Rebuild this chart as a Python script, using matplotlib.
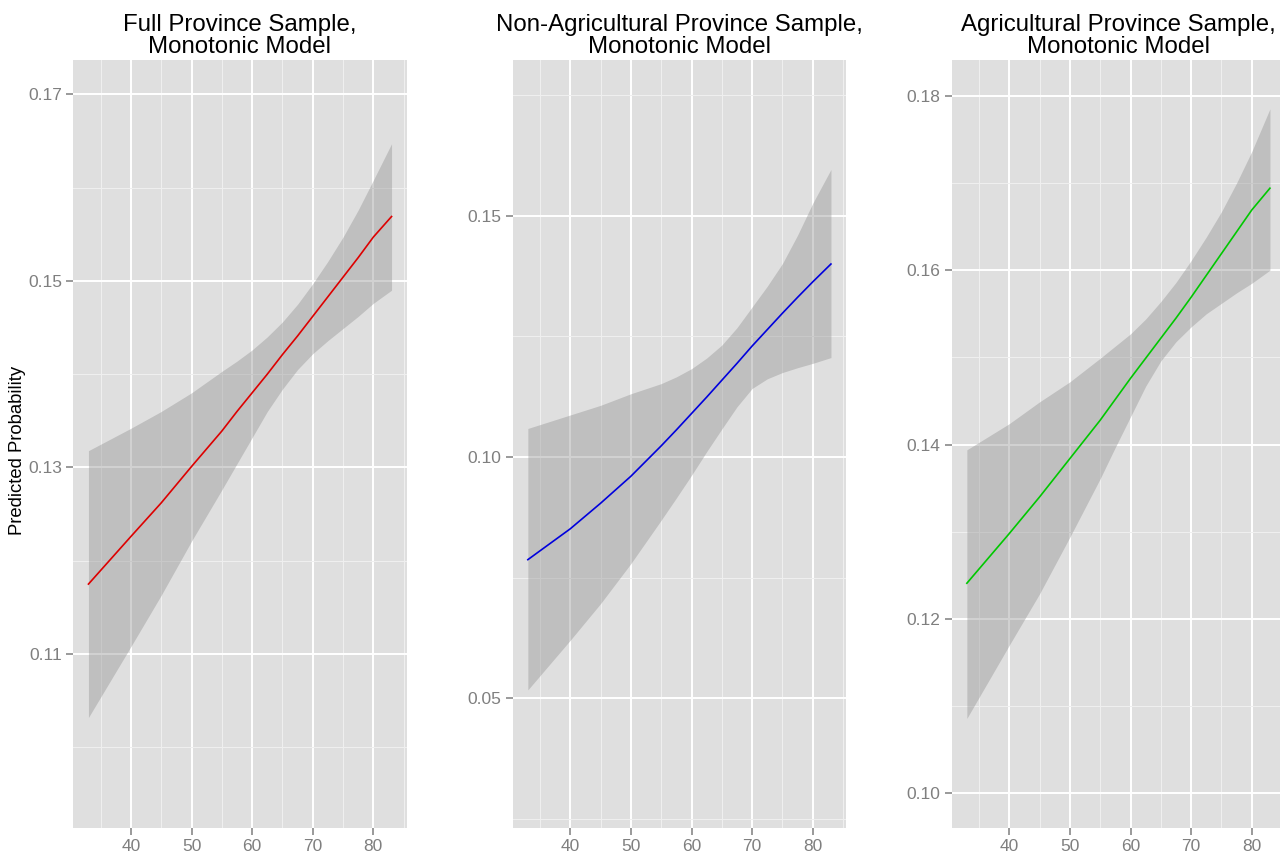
import numpy as np
import matplotlib.pyplot as plt
from matplotlib.ticker import FixedLocator

plt.rcParams['font.family'] = ['Liberation Sans', 'DejaVu Sans']

age = [33, 40, 45, 50, 55, 57.5, 60, 62.5, 65, 67.5, 70, 72.5, 75, 77.5, 80, 83]

# Full province sample
full_fit = [0.1175, 0.1226, 0.1262, 0.1301, 0.1339, 0.1360, 0.1380, 0.1400, 0.1421, 0.1441,
            0.1462, 0.1483, 0.1504, 0.1525, 0.1547, 0.1569]
full_lo  = [0.1032, 0.1108, 0.1163, 0.1221, 0.1276, 0.1304, 0.1332, 0.1360, 0.1384, 0.1405,
            0.1422, 0.1436, 0.1449, 0.1462, 0.1476, 0.1490]
full_hi  = [0.1318, 0.1342, 0.1360, 0.1380, 0.1403, 0.1414, 0.1426, 0.1440, 0.1456, 0.1475,
            0.1497, 0.1521, 0.1547, 0.1576, 0.1608, 0.1647]

# Non-agricultural provinces
nonag_fit = [0.0787, 0.0851, 0.0904, 0.0960, 0.1023, 0.1056, 0.1090, 0.1124, 0.1159, 0.1194,
             0.1230, 0.1264, 0.1298, 0.1331, 0.1363, 0.1400]
nonag_lo  = [0.0517, 0.0620, 0.0696, 0.0779, 0.0869, 0.0915, 0.0962, 0.1011, 0.1058, 0.1104,
             0.1142, 0.1162, 0.1175, 0.1185, 0.1194, 0.1206]
nonag_hi  = [0.1059, 0.1087, 0.1107, 0.1131, 0.1152, 0.1166, 0.1183, 0.1205, 0.1232, 0.1268,
             0.1311, 0.1354, 0.1401, 0.1460, 0.1526, 0.1596]

# Agricultural provinces
ag_fit = [0.1241, 0.1298, 0.1340, 0.1384, 0.1428, 0.1452, 0.1476, 0.1499, 0.1522, 0.1545,
          0.1569, 0.1594, 0.1619, 0.1644, 0.1669, 0.1694]
ag_lo  = [0.1086, 0.1170, 0.1229, 0.1294, 0.1361, 0.1397, 0.1432, 0.1467, 0.1496, 0.1518,
          0.1535, 0.1550, 0.1562, 0.1574, 0.1585, 0.1600]
ag_hi  = [0.1394, 0.1424, 0.1449, 0.1472, 0.1499, 0.1513, 0.1527, 0.1544, 0.1564, 0.1586,
          0.1611, 0.1638, 0.1667, 0.1700, 0.1736, 0.1785]

panels = [
    ("Full Province Sample,\nMonotonic Model", full_fit, full_lo, full_hi, "#dd0000",
     (0.09132, 0.17368), [0.11, 0.13, 0.15, 0.17], [0.10, 0.12, 0.14, 0.16]),
    ("Non-Agricultural Province Sample,\nMonotonic Model", nonag_fit, nonag_lo, nonag_hi, "#0000dd",
     (0.0230, 0.1823), [0.05, 0.10, 0.15], [0.025, 0.075, 0.125, 0.175]),
    ("Agricultural Province Sample,\nMonotonic Model", ag_fit, ag_lo, ag_hi, "#00c800",
     (0.0960, 0.1841), [0.10, 0.12, 0.14, 0.16, 0.18], [0.11, 0.13, 0.15, 0.17]),
]

W, H = 1280, 856
fig = plt.figure(figsize=(W / 100, H / 100), dpi=100)
lefts = [73.3, 512.7, 951.7]
pw, ph = 333.4, 768.3
bottom = 856 - 828.3

bg = "#dfdfdf"
for i, (title, fit, lo, hi, col, ylim, yt, ymin) in enumerate(panels):
    ax = fig.add_axes([lefts[i] / W, bottom / H, pw / W, ph / H])
    ax.set_facecolor(bg)
    for s in ax.spines.values():
        s.set_visible(False)
    ax.set_xlim(30.5, 85.5)
    ax.set_ylim(*ylim)
    ax.xaxis.set_major_locator(FixedLocator([40, 50, 60, 70, 80]))
    ax.xaxis.set_minor_locator(FixedLocator([35, 45, 55, 65, 75, 85]))
    ax.yaxis.set_major_locator(FixedLocator(yt))
    ax.yaxis.set_minor_locator(FixedLocator(ymin))
    ax.set_yticklabels([f"{v:.2f}" for v in yt])
    ax.grid(which="major", color="white", linewidth=1.4)
    ax.grid(which="minor", color="#f0f0f0", linewidth=0.7)
    ax.set_axisbelow(True)
    ax.tick_params(which="major", length=5, width=1.1, color="#7f7f7f",
                   labelcolor="#7f7f7f", labelsize=12.5, pad=3)
    ax.tick_params(which="minor", length=0)
    ax.fill_between(age, lo, hi, color="#939393", alpha=0.42, linewidth=0)
    ax.plot(age, fit, color=col, linewidth=1.2)
    ax.set_title(title, fontsize=17.3, color="black", pad=5, linespacing=1.02)

fig.text(18 / W, 1 - 450 / H, "Predicted Probability", rotation=90,
         ha="center", va="center", fontsize=13.3)

fig.savefig("out.png", dpi=100)
